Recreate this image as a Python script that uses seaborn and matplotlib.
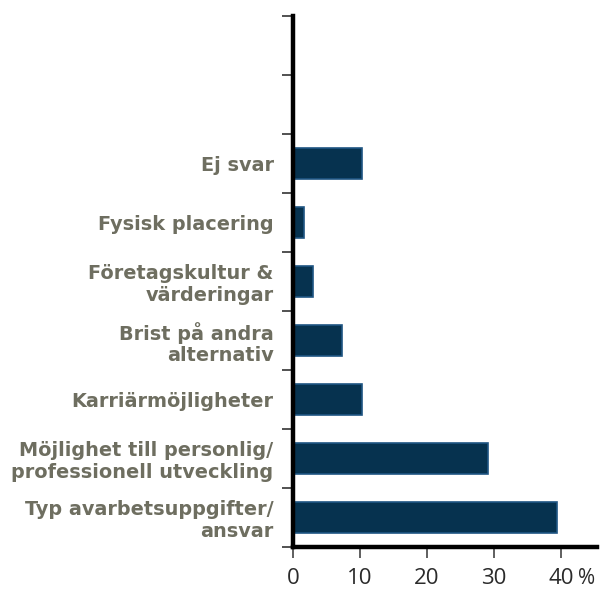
import numpy as np
import pandas as pd
import seaborn as sns
import matplotlib.pyplot as plt

categories = ["Ej svar", "Fysisk placering", "Företagskultur &\nvärderingar",
              "Brist på andra\nalternativ", "Karriärmöjligheter",
              "Möjlighet till personlig/\nprofessionell utveckling",
              "Typ avarbetsuppgifter/\nansvar"]
values = [10.3, 1.6, 3.0, 7.3, 10.3, 29.1, 39.4]
xticks = [0, 10, 20, 30, 40]

df = pd.DataFrame({"kategori": categories, "andel": values})

sns.set_style("white")
plt.rcParams['font.family'] = ['Open Sans', 'DejaVu Sans']

fig = plt.figure(figsize=(6.01, 5.89), dpi=100)
ax = fig.add_axes([0.4875, 0.0713, 0.506, 0.9017])

sns.barplot(data=df, x="andel", y="kategori", order=categories, color="#06324f",
            width=0.53, edgecolor="#1f5583", linewidth=1.2, saturation=1, ax=ax)

ax.set_xlim(0, 45.4)
ax.set_ylim(6.5, -2.5)

# ticks at slot boundaries, labels in the slot centre
ax.set_yticks(np.arange(-2.5, 7.0, 1.0))
ax.set_yticklabels([])
ax.set_yticks(np.arange(len(categories)), minor=True)
ax.set_yticklabels(categories, minor=True, fontsize=13.9, fontweight="bold",
                   color="#6e6e60", linespacing=1.15, family="DejaVu Sans")
ax.tick_params(axis="y", which="major", length=8, width=1.2, color="#333333", left=True)
ax.tick_params(axis="y", which="minor", length=0, pad=14)

ax.set_xticks(xticks)
ax.set_xticklabels([str(t) for t in xticks], fontsize=16, color="#2b2b2b")
ax.tick_params(axis="x", length=8, width=1.2, color="#444444", bottom=True, pad=7)
ax.text(42.6, -0.039, "%", transform=ax.get_xaxis_transform(), fontsize=15,
        color="#2b2b2b", va="top", ha="left")

ax.set_xlabel("")
ax.set_ylabel("")
for s in ["top", "right"]:
    ax.spines[s].set_visible(False)
for s in ["left", "bottom"]:
    ax.spines[s].set_linewidth(3.2)
    ax.spines[s].set_color("black")
ax.grid(False)

fig.savefig("out.png", dpi=100)
